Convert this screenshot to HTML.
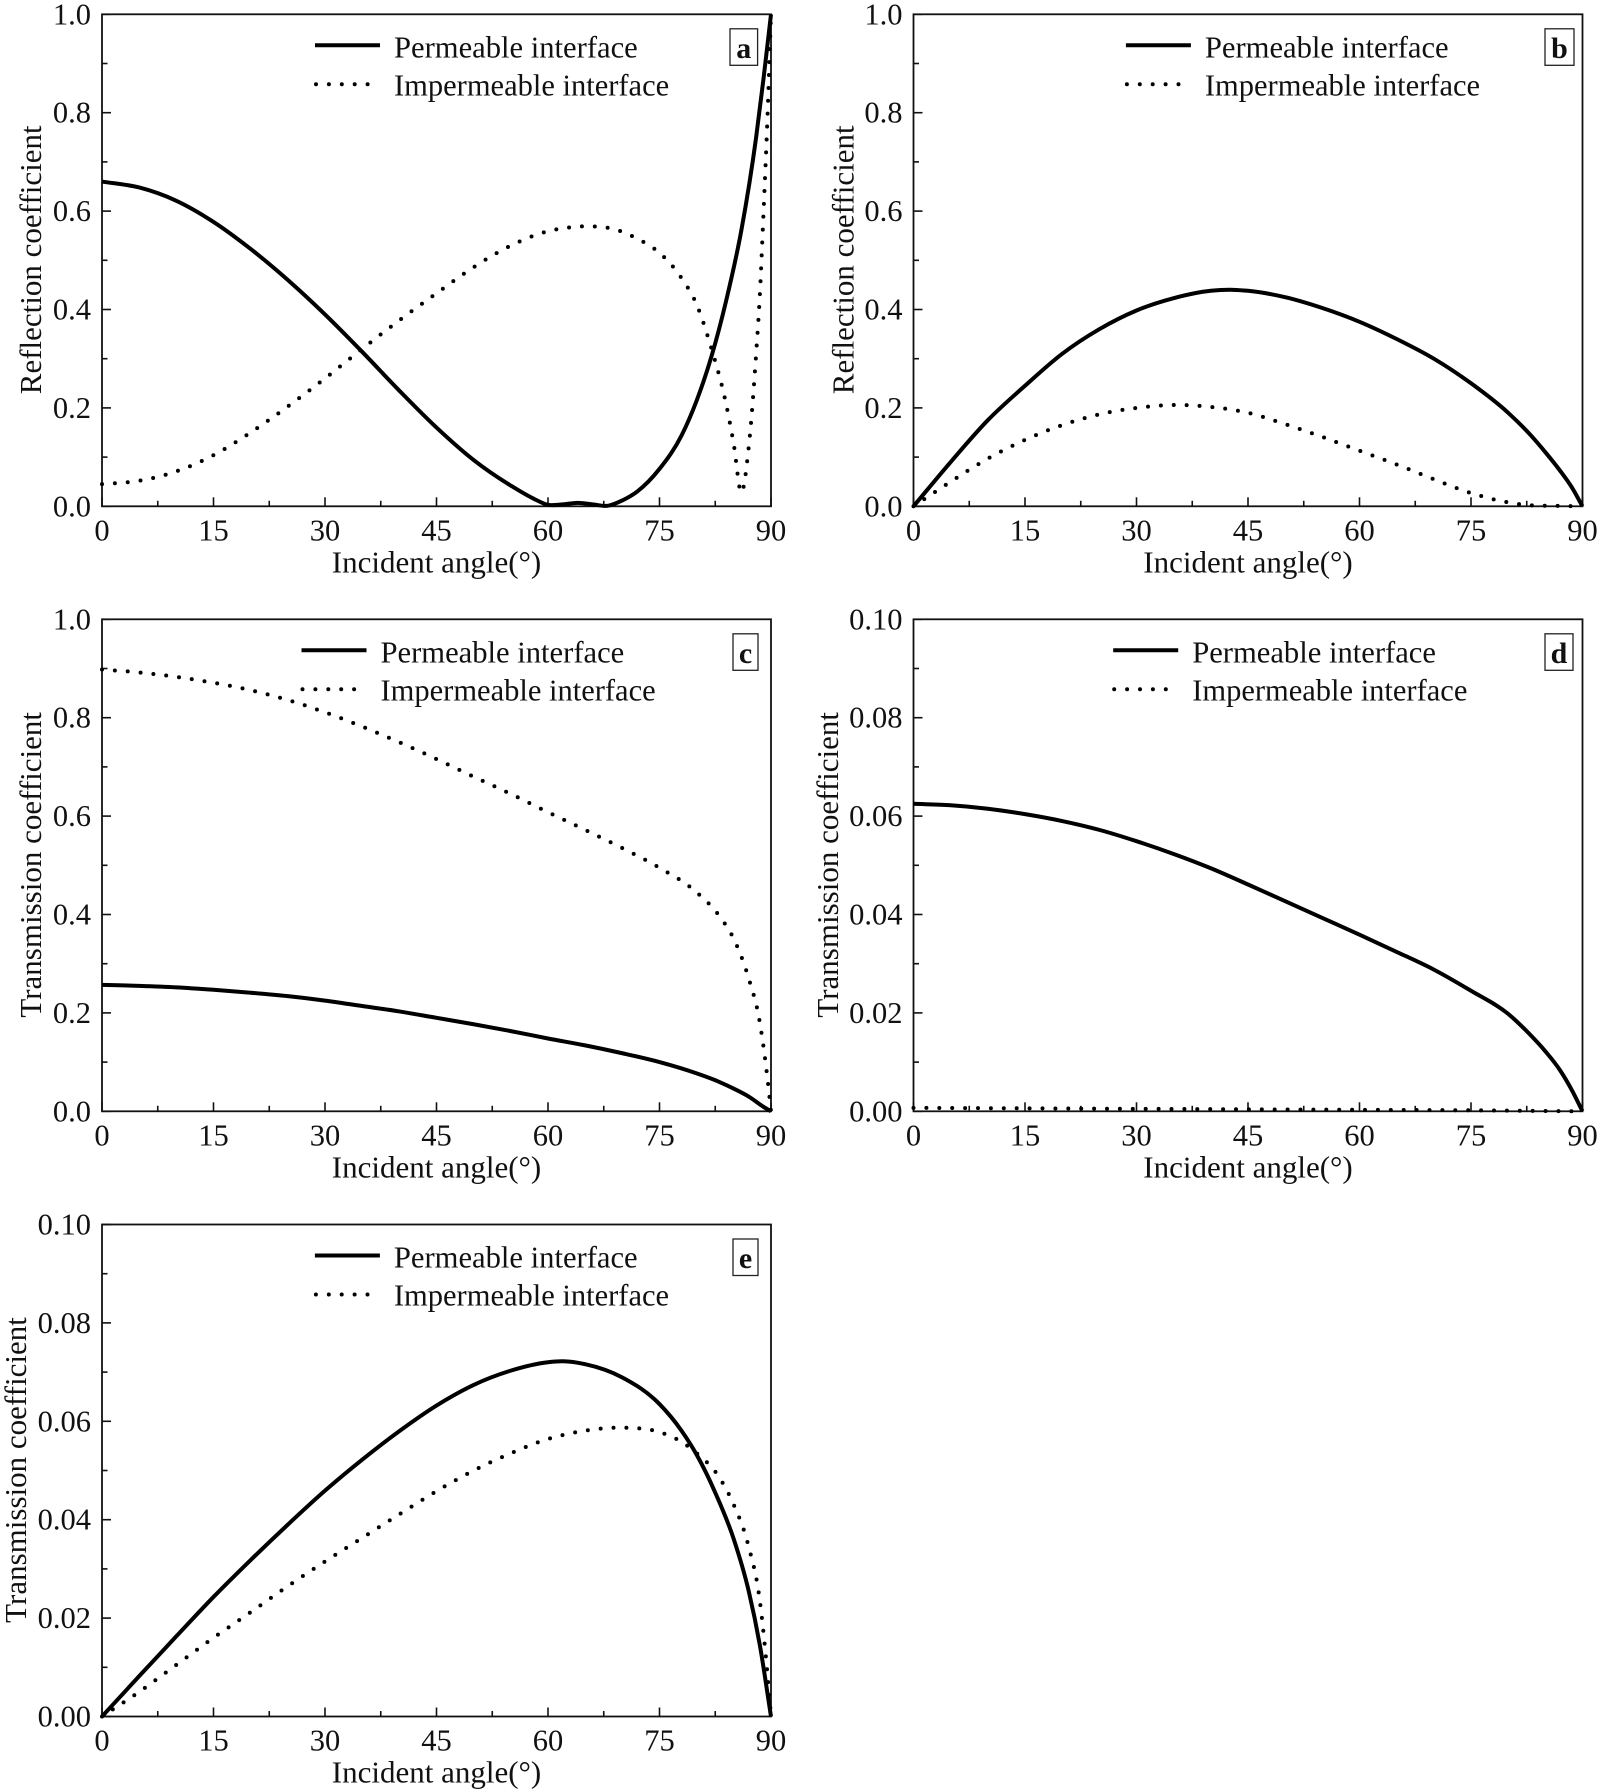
<!DOCTYPE html>
<html lang="en">
<head>
<meta charset="utf-8">
<title>Reflection and transmission coefficients</title>
<style>
html,body{margin:0;padding:0;background:#fff}
svg{display:block;font-family:"Liberation Serif","Times New Roman",serif;fill:#111}
</style>
</head>
<body>
<svg id="figure" xmlns="http://www.w3.org/2000/svg" width="1600" height="1792" viewBox="0 0 1600 1792"></svg>
<script>
const xTickLabels = ['0', '15', '30', '45', '60', '75', '90'];
const yTicksUnit = ['0.0', '0.2', '0.4', '0.6', '0.8', '1.0'];
const yTicksTenth = ['0.00', '0.02', '0.04', '0.06', '0.08', '0.10'];
const legendLabels = ['Permeable interface', 'Impermeable interface'];

const aSolidAngles = [0, 5, 10, 15, 20, 25, 30, 35, 40, 45, 50, 55, 58, 60, 62, 64, 66, 68, 70, 72, 75, 78, 80, 82, 84, 86, 88, 89, 90];
const aSolidValues = [0.66, 0.648, 0.621, 0.578, 0.523, 0.46, 0.39, 0.314, 0.235, 0.16, 0.094, 0.042, 0.016, 0.003, 0.004, 0.007, 0.004, 0.001, 0.012, 0.03, 0.076, 0.145, 0.215, 0.305, 0.42, 0.56, 0.75, 0.87, 1.0];
const aDotAngles = [0, 5, 10, 15, 20, 25, 30, 35, 40, 45, 50, 55, 60, 63, 66, 69, 72, 75, 78, 80, 82, 84, 85, 86, 87, 88, 88.5, 89, 89.5, 90];
const aDotValues = [0.045, 0.052, 0.071, 0.104, 0.15, 0.203, 0.26, 0.32, 0.378, 0.433, 0.486, 0.53, 0.559, 0.567, 0.569, 0.563, 0.544, 0.515, 0.463, 0.41, 0.32, 0.205, 0.125, 0.028, 0.12, 0.31, 0.43, 0.6, 0.78, 1.0];

const bSolidAngles = [0, 5, 10, 15, 20, 25, 30, 35, 40, 43, 45, 50, 55, 60, 65, 70, 75, 80, 83, 85, 87, 88.5, 90];
const bSolidValues = [0, 0.09, 0.175, 0.245, 0.31, 0.36, 0.398, 0.423, 0.438, 0.44, 0.438, 0.425, 0.403, 0.375, 0.34, 0.3, 0.25, 0.19, 0.145, 0.11, 0.072, 0.04, 0];
const bDotAngles = [0, 5, 10, 15, 20, 25, 30, 35, 40, 45, 50, 55, 60, 65, 70, 75, 80, 83, 86, 90];
const bDotValues = [0, 0.05, 0.097, 0.135, 0.165, 0.187, 0.2, 0.206, 0.202, 0.19, 0.167, 0.141, 0.113, 0.085, 0.055, 0.027, 0.008, 0.002, 0.001, 0];

const cSolidAngles = [0, 5, 10, 15, 20, 25, 30, 35, 40, 45, 50, 55, 60, 65, 70, 75, 80, 83, 85, 87, 89, 90];
const cSolidValues = [0.257, 0.255, 0.252, 0.247, 0.241, 0.234, 0.225, 0.214, 0.203, 0.19, 0.177, 0.163, 0.148, 0.134, 0.118, 0.1, 0.077, 0.06, 0.046, 0.03, 0.009, 0];
const cDotAngles = [0, 5, 10, 15, 20, 25, 30, 35, 40, 45, 50, 55, 60, 65, 70, 75, 80, 83, 85, 87, 88.5, 89.5, 90];
const cDotValues = [0.898, 0.892, 0.883, 0.871, 0.856, 0.836, 0.811, 0.782, 0.75, 0.716, 0.68, 0.645, 0.608, 0.572, 0.535, 0.495, 0.445, 0.398, 0.35, 0.27, 0.18, 0.07, 0];

const dSolidAngles = [0, 5, 10, 15, 20, 25, 30, 35, 40, 45, 50, 55, 60, 65, 70, 75, 80, 83, 85, 87, 88.5, 90];
const dSolidValues = [0.0625, 0.0622, 0.0615, 0.0604, 0.059, 0.0572, 0.0549, 0.0523, 0.0494, 0.0461, 0.0427, 0.0393, 0.0359, 0.0324, 0.0288, 0.0245, 0.0198, 0.0155, 0.0122, 0.0083, 0.0045, 0];
const dDotAngles = [0, 15, 30, 45, 60, 75, 90];
const dDotValues = [0.0007, 0.0006, 0.0005, 0.0004, 0.0003, 0.0002, 0];

const eSolidAngles = [0, 5, 10, 15, 20, 25, 30, 35, 40, 45, 50, 55, 60, 62, 65, 70, 75, 78, 80, 82.5, 85, 87, 88.5, 90];
const eSolidValues = [0, 0.0082, 0.0163, 0.0243, 0.0318, 0.039, 0.0459, 0.0522, 0.058, 0.0632, 0.0674, 0.0703, 0.072, 0.0722, 0.0716, 0.0689, 0.0635, 0.058, 0.0532, 0.0455, 0.036, 0.0255, 0.0145, 0];
const eDotAngles = [0, 5, 10, 15, 20, 25, 30, 35, 40, 45, 50, 55, 60, 65, 70, 75, 78, 80, 83, 85, 87, 88.5, 89.5, 90];
const eDotValues = [0, 0.005, 0.0105, 0.016, 0.0212, 0.0265, 0.0315, 0.0363, 0.0411, 0.0458, 0.05, 0.0535, 0.0564, 0.0581, 0.0587, 0.0578, 0.0558, 0.0535, 0.0487, 0.043, 0.0345, 0.0235, 0.009, 0];

const panels = [
  {id:'a', left:102, top:14.3, yTitle:'Reflection coefficient', yTicks:yTicksUnit, titleX:41, legendX:213, boxW:27.6, boxRight:757.6, solidX:aSolidAngles, solidY:aSolidValues, dotX:aDotAngles, dotY:aDotValues},
  {id:'b', left:913.5, top:14.3, yTitle:'Reflection coefficient', yTicks:yTicksUnit, titleX:853.5, legendX:212.4, boxW:29, boxRight:1574, solidX:bSolidAngles, solidY:bSolidValues, dotX:bDotAngles, dotY:bDotValues},
  {id:'c', left:102, top:619.3, yTitle:'Transmission coefficient', yTicks:yTicksUnit, titleX:41, legendX:199.5, boxW:25, boxRight:758, solidX:cSolidAngles, solidY:cSolidValues, dotX:cDotAngles, dotY:cDotValues},
  {id:'d', left:913.5, top:619.3, yTitle:'Transmission coefficient', yTicks:yTicksTenth, titleX:838, legendX:199.7, boxW:28, boxRight:1573, solidX:dSolidAngles, solidY:dSolidValues, dotX:dDotAngles, dotY:dDotValues},
  {id:'e', left:102, top:1224.5, yTitle:'Transmission coefficient', yTicks:yTicksTenth, titleX:26, legendX:212.9, boxW:25, boxRight:758, solidX:eSolidAngles, solidY:eSolidValues, dotX:eDotAngles, dotY:eDotValues}
];

const NS = 'http://www.w3.org/2000/svg';
const PLOT_W = 669;
const PLOT_H = 492;
const X_MAX = 90;
const FONT = 30.5;
const TITLE_FONT = 31;
const figure = document.getElementById('figure');

function make(tag, parent, attrs) {
  const el = document.createElementNS(NS, tag);
  for (const k in attrs) el.setAttribute(k, attrs[k]);
  parent.appendChild(el);
  return el;
}
function xScale(p, angle) { return p.left + angle / X_MAX * PLOT_W; }
function yScale(p, value) {
  const yMax = parseFloat(p.yTicks[p.yTicks.length - 1]);
  return p.top + PLOT_H - value / yMax * PLOT_H;
}
function curvePath(p, xs, ys) {
  const pts = xs.map((a, i) => [xScale(p, a), yScale(p, ys[i])]);
  const n = pts.length;
  const slopes = pts.slice(0, n - 1).map((pt, i) => (pts[i + 1][1] - pt[1]) / (pts[i + 1][0] - pt[0]));
  const tangents = pts.map((pt, i) => {
    if (i === 0) return slopes[0];
    if (i === n - 1) return slopes[n - 2];
    const h0 = pt[0] - pts[i - 1][0];
    const h1 = pts[i + 1][0] - pt[0];
    return (h0 * slopes[i] + h1 * slopes[i - 1]) / (h0 + h1);
  });
  let d = 'M' + pts[0][0].toFixed(2) + ' ' + pts[0][1].toFixed(2);
  for (let i = 0; i < n - 1; i++) {
    const dx = (pts[i + 1][0] - pts[i][0]) / 3;
    d += 'C' + (pts[i][0] + dx).toFixed(2) + ' ' + (pts[i][1] + tangents[i] * dx).toFixed(2) + ' ' +
      (pts[i + 1][0] - dx).toFixed(2) + ' ' + (pts[i + 1][1] - tangents[i + 1] * dx).toFixed(2) + ' ' +
      pts[i + 1][0].toFixed(2) + ' ' + pts[i + 1][1].toFixed(2);
  }
  return d;
}

function drawAxes(p, g) {
  const bottom = p.top + PLOT_H;
  xTickLabels.forEach((label, i) => {
    const v = parseFloat(label);
    const x = xScale(p, v);
    const tick = make('line', g, {x1:x, x2:x, y1:bottom, y2:bottom - 9, stroke:'#111', 'stroke-width':1.6});
    
    
    const text = make('text', g, {x:x, y:bottom + 34, 'text-anchor':'middle', 'font-size':FONT});
    text.textContent = label;
    
    
    if (i < xTickLabels.length - 1) {
      const mx = xScale(p, (v + parseFloat(xTickLabels[i + 1])) / 2);
      const minor = make('line', g, {x1:mx, x2:mx, y1:bottom, y2:bottom - 5.5, stroke:'#111', 'stroke-width':1.6});
      
      
    }
  });
  p.yTicks.forEach((label, i) => {
    const v = parseFloat(label);
    const y = yScale(p, v);
    const tick = make('line', g, {x1:p.left, x2:p.left + 9, y1:y, y2:y, stroke:'#111', 'stroke-width':1.6});
    
    
    const text = make('text', g, {x:p.left - 11, y:y + 10, 'text-anchor':'end', 'font-size':FONT});
    text.textContent = label;
    
    
    if (i < p.yTicks.length - 1) {
      const my = yScale(p, (v + parseFloat(p.yTicks[i + 1])) / 2);
      const minor = make('line', g, {x1:p.left, x2:p.left + 5.5, y1:my, y2:my, stroke:'#111', 'stroke-width':1.6});
      
      
    }
  });
  const xTitle = make('text', g, {x:p.left + PLOT_W / 2, y:bottom + 66, 'text-anchor':'middle', 'font-size':TITLE_FONT});
  xTitle.textContent = 'Incident angle(°)';
  
  
  const cy = p.top + PLOT_H / 2 - 0.5;
  const yTitle = make('text', g, {x:p.titleX, y:cy, 'text-anchor':'middle', 'font-size':TITLE_FONT, transform:'rotate(-90 ' + p.titleX + ' ' + cy + ')'});
  yTitle.textContent = p.yTitle;
  
  
}

function drawSeries(p, g) {
  const dot = make('path', g, {d:curvePath(p, p.dotX, p.dotY), fill:'none', stroke:'#000', 'stroke-width':4, 'stroke-linecap':'round', 'stroke-dasharray':'0 12.9'});
  
  
  const solid = make('path', g, {d:curvePath(p, p.solidX, p.solidY), fill:'none', stroke:'#000', 'stroke-width':4, 'stroke-linejoin':'round'});
  
  
}

function drawFrame(p, g) {
  const frame = make('rect', g, {x:p.left, y:p.top, width:PLOT_W, height:PLOT_H, fill:'none', stroke:'#111', 'stroke-width':1.8});
  
  
}

function drawLegend(p, g) {
  const lx = p.left + p.legendX;
  const lg = make('g', g, {});
  
  
  const sample1 = make('line', lg, {x1:lx, x2:lx + 65, y1:p.top + 31, y2:p.top + 31, stroke:'#000', 'stroke-width':4});
  
  
  const text1 = make('text', lg, {x:lx + 79, y:p.top + 43, 'font-size':30.6});
  text1.textContent = legendLabels[0];
  
  
  const sample2 = make('line', lg, {x1:lx + 1, x2:lx + 56, y1:p.top + 70, y2:p.top + 70, stroke:'#000', 'stroke-width':4, 'stroke-linecap':'round', 'stroke-dasharray':'0 12.9'});
  
  
  const text2 = make('text', lg, {x:lx + 79, y:p.top + 81, 'font-size':30.5});
  text2.textContent = legendLabels[1];
  
  
}

function drawBadge(p, g) {
  const box = make('rect', g, {x:p.boxRight - p.boxW, y:p.top + 14.5, width:p.boxW, height:36.5, fill:'#fff', stroke:'#222', 'stroke-width':1.3});
  
  
  const letter = make('text', g, {x:p.boxRight - p.boxW / 2, y:p.top + 43.5, 'text-anchor':'middle', 'font-size':30, 'font-weight':'bold'});
  letter.textContent = p.id;
  
  
}

panels.forEach(p => {
  const g = make('g', figure, {});
  
  
  drawFrame(p, g);
  drawAxes(p, g);
  drawBadge(p, g);
  drawLegend(p, g);
  drawSeries(p, g);
});
</script>
</body>
</html>
